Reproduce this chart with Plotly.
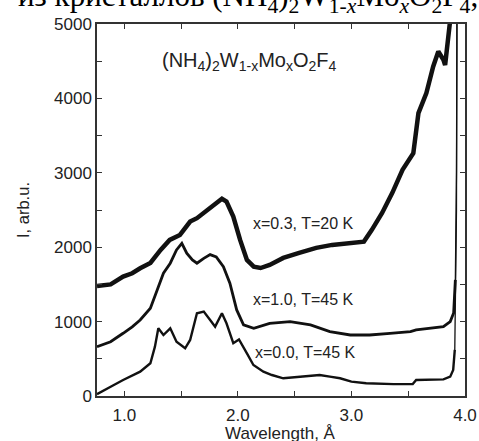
import plotly.graph_objects as go

# x = 0.3, T = 20 K
wl_03 = [0.76, 0.88, 0.99, 1.07, 1.14, 1.23, 1.32, 1.40, 1.49, 1.58, 1.64, 1.73, 1.815, 1.86, 1.90,
         1.96, 2.02, 2.08, 2.14, 2.20, 2.28, 2.40, 2.54, 2.69, 2.83, 2.98, 3.11, 3.18, 3.27, 3.36,
         3.45, 3.545, 3.57, 3.59, 3.66, 3.72, 3.765, 3.81, 3.825, 3.84, 3.855, 3.87, 3.88]
I_03 = [1480, 1500, 1605, 1650, 1717, 1789, 1964, 2098, 2165, 2344, 2390, 2502, 2613, 2650, 2613,
        2412, 2098, 1829, 1739, 1720, 1762, 1856, 1923, 1991, 2031, 2058, 2075, 2233, 2461, 2730,
        3040, 3264, 3622, 3802, 4071, 4429, 4631, 4519, 4450, 4654, 4878, 5057, 5300]

# x = 1.0, T = 45 K
wl_10 = [0.76, 0.88, 0.99, 1.07, 1.14, 1.23, 1.29, 1.345, 1.405, 1.46, 1.507, 1.55, 1.60, 1.64, 1.70,
         1.756, 1.81, 1.873, 1.93, 1.99, 2.05, 2.14, 2.28, 2.46, 2.64, 2.81, 2.99, 3.16, 3.34, 3.52,
         3.57, 3.70, 3.81, 3.87, 3.90, 3.915, 3.925, 3.93]
I_10 = [663, 730, 843, 930, 1022, 1180, 1426, 1650, 1785, 1964, 2053, 1919, 1830, 1785, 1850,
        1900, 1870, 1739, 1516, 1157, 955, 910, 977, 1000, 955, 865, 820, 820, 843, 865,
        888, 910, 932, 1000, 1116, 1560, 3000, 5600]

# x = 0.0, T = 45 K
wl_00 = [0.76, 0.82, 0.88, 0.99, 1.07, 1.14, 1.23, 1.27, 1.30, 1.345, 1.405, 1.46, 1.536, 1.58, 1.64,
         1.70, 1.756, 1.80, 1.86, 1.90, 1.96, 2.01, 2.08, 2.137, 2.225, 2.30, 2.40, 2.50, 2.61, 2.72,
         2.81, 2.90, 3.00, 3.13, 3.37, 3.54, 3.57, 3.70, 3.81, 3.87, 3.896, 3.91, 3.925, 3.93]
I_00 = [25, 70, 125, 215, 270, 327, 440, 663, 910, 820, 910, 730, 641, 753, 1112,
        1134, 1022, 932, 1112, 977, 709, 760, 574, 417, 327, 282, 238, 250, 260, 282,
        260, 238, 193, 171, 160, 161, 215, 215, 224, 260, 350, 619, 2500, 5600]

labels = ["x=0.3, T=20 K", "x=1.0, T=45 K", "x=0.0, T=45 K"]
x_ticks = [1.0, 2.0, 3.0, 4.0]
y_ticks = [0, 1000, 2000, 3000, 4000, 5000]
x_title = "Wavelength, Å"
y_title = "I, arb.u."

FONT = "Arial, 'Liberation Sans', sans-serif"
COL = "#111111"

fig = go.Figure()
# main parts (thick) and the final steep rise (thin)
series = [(wl_03, I_03, 4.5, 2), (wl_10, I_10, 2.8, 3), (wl_00, I_00, 2.4, 3)]
for wl, I, w, k in series:
    n = len(wl) - k
    fig.add_trace(go.Scatter(x=wl[:n + 1], y=I[:n + 1], mode="lines",
                             line=dict(color=COL, width=w), showlegend=False))
    fig.add_trace(go.Scatter(x=wl[n:], y=I[n:], mode="lines",
                             line=dict(color=COL, width=1.3), showlegend=False))

L, R, T, B = 97, 14, 24, 45
W, H = 479, 441
pw, ph = W - L - R, H - T - B

def px(xp):
    return (xp - L) / pw

def py(yp):
    return (H - B - yp) / ph

ann = [
    dict(x=px(160), y=py(61), xanchor="left", yanchor="middle",
         text="(NH<sub>4</sub>)<sub>2</sub>W<sub>1-x</sub>Mo<sub>x</sub>O<sub>2</sub>F<sub>4</sub>",
         font=dict(size=20, color="#222", family=FONT)),
    dict(x=px(251), y=py(223), xanchor="left", yanchor="middle", text=labels[0],
         font=dict(size=16, color="#222", family=FONT)),
    dict(x=px(251), y=py(299), xanchor="left", yanchor="middle", text=labels[1],
         font=dict(size=16, color="#222", family=FONT)),
    dict(x=px(253), y=py(352), xanchor="left", yanchor="middle", text=labels[2],
         font=dict(size=16, color="#222", family=FONT)),
    dict(x=px(280), y=py(434), xanchor="center", yanchor="middle", text=x_title,
         font=dict(size=17, color="#222", family=FONT)),
    dict(x=px(480), y=py(20), xanchor="right", yanchor="bottom",
         text="из кристаллов (NH<sub>4</sub>)<sub>2</sub>W<sub>1-<i>x</i></sub>Mo<sub><i>x</i></sub>O<sub>2</sub>F<sub>4</sub>,",
         font=dict(size=31, color="#000", family="'Liberation Serif', 'DejaVu Serif', serif")),
]
for a in ann:
    a.update(xref="paper", yref="paper", showarrow=False)

fig.update_layout(
    width=W, height=H,
    margin=dict(l=L, r=R, t=T, b=B, autoexpand=False),
    paper_bgcolor="white", plot_bgcolor="white",
    annotations=ann,
    font=dict(family=FONT, color="#222"),
)
fig.update_xaxes(
    range=[0.76, 4.0], tickvals=x_ticks, tickformat=".1f", automargin=False,
    ticks="inside", ticklen=5, tickwidth=1, tickcolor="#333",
    minor=dict(dtick=0.5, tick0=0, ticks="inside", ticklen=5, tickcolor="#333"),
    showline=True, linecolor="#333", linewidth=1.5, mirror="ticks",
    showgrid=False, zeroline=False, ticklabelstandoff=3,
    tickfont=dict(size=17, family=FONT, color="#222"),
)
fig.update_yaxes(
    range=[0, 5000], tickvals=y_ticks, automargin=False,
    ticks="inside", ticklen=5, tickwidth=1, tickcolor="#333",
    minor=dict(dtick=500, tick0=0, ticks="inside", ticklen=5, tickcolor="#333"),
    showline=True, linecolor="#333", linewidth=1.5, mirror="ticks",
    showgrid=False, zeroline=False,
    tickfont=dict(size=17, family=FONT, color="#222"),
    title=dict(text=y_title, font=dict(size=16.5, family=FONT, color="#222"), standoff=20),
)

fig.write_html("out.html")
